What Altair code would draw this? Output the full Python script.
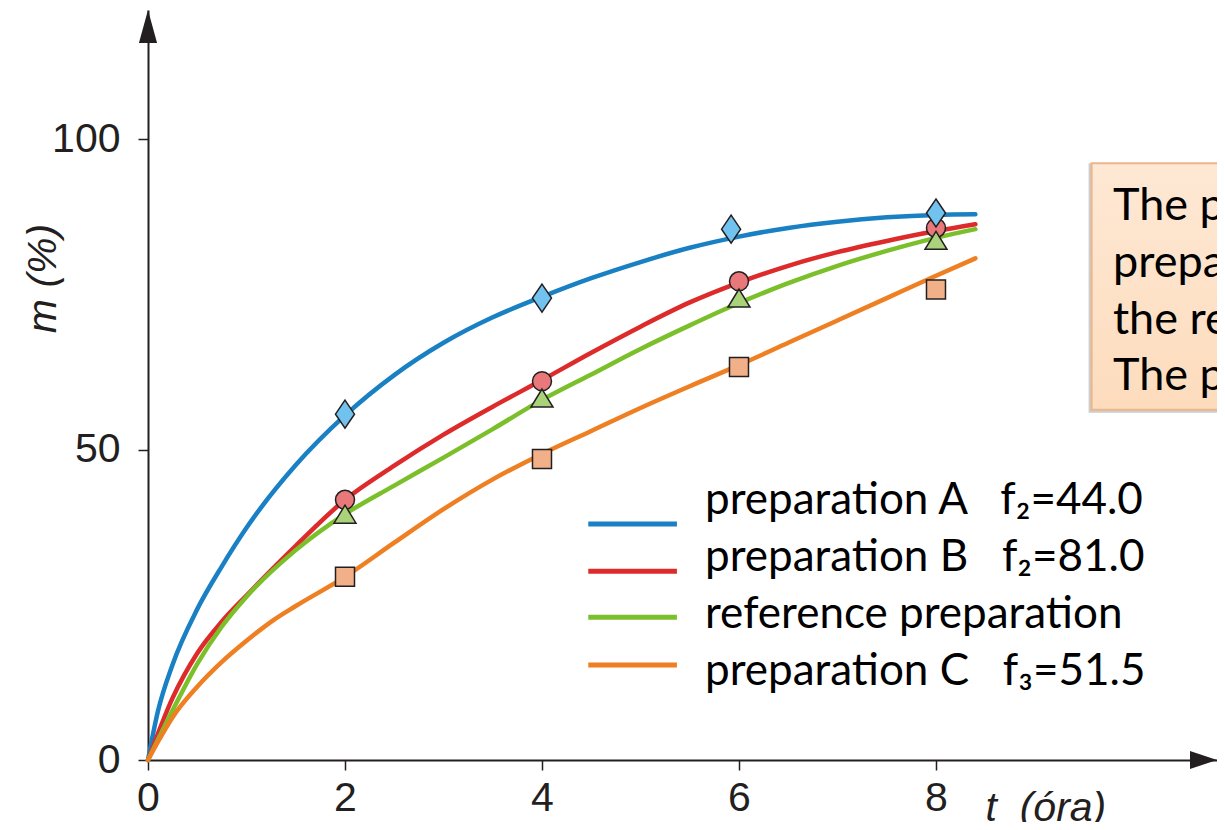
import altair as alt
import pandas as pd

# ---------------- data ----------------
series_names = ["preparation A", "preparation B", "reference preparation", "preparation C"]
series_colors = ["#1a80c4", "#dd2a2a", "#7bc02b", "#ee7f22"]

curve_t_A = [0, 0.1, 0.25, 0.5, 0.75, 1.0, 1.5, 2, 2.5, 3, 3.5, 4, 4.5, 5, 5.5, 6, 6.5, 7, 7.5, 8, 8.4]
curve_m_A = [0, 7.8, 15.4, 24.3, 31.2, 37.4, 47.5, 55.5, 62.0, 67.2, 71.3, 74.6, 77.6, 80.2, 82.5, 84.3, 85.7, 86.7, 87.4, 87.8, 87.9]

curve_t_B = [0, 0.25, 0.5, 0.75, 1.0, 1.5, 2, 2.5, 3, 3.5, 4, 4.5, 5, 5.5, 6, 6.5, 7, 7.5, 8, 8.4]
curve_m_B = [0, 10.0, 17.2, 22.3, 26.5, 34.5, 41.9, 47.4, 52.4, 56.9, 61.2, 65.6, 69.8, 73.7, 76.9, 79.6, 81.8, 83.6, 85.2, 86.3]

curve_t_R = [0, 0.25, 0.5, 0.75, 1.0, 1.5, 2, 2.5, 3, 3.5, 4, 4.5, 5, 5.5, 6, 6.5, 7, 7.5, 8, 8.4]
curve_m_R = [0, 8.0, 15.5, 21.5, 26.3, 33.8, 39.6, 44.2, 48.7, 53.3, 58.0, 62.1, 66.2, 70.0, 73.6, 76.8, 79.6, 82.0, 84.1, 85.5]

curve_t_C = [0, 0.1, 0.25, 0.5, 0.75, 1.0, 1.27, 1.5, 2, 2.5, 3, 3.5, 4, 4.5, 5, 5.5, 6, 6.5, 7, 7.5, 8, 8.4]
curve_m_C = [0, 2.9, 6.9, 11.8, 15.8, 19.2, 22.5, 24.8, 29.5, 35.0, 40.4, 45.2, 49.3, 53.0, 56.7, 60.2, 63.6, 67.2, 70.8, 74.4, 78.0, 80.8]

points_t_A = [2, 4, 5.92, 8]
points_m_A = [55.7, 74.4, 85.5, 88.1]
points_t_B = [2, 4, 6, 8]
points_m_B = [41.9, 61.0, 77.1, 85.7]
points_t_R = [2, 4, 6, 8]
points_m_R = [39.6, 58.3, 74.4, 83.7]
points_t_C = [2, 4, 6, 8]
points_m_C = [29.5, 48.5, 63.3, 75.8]

x_ticks = [0, 2, 4, 6, 8]
y_ticks = [0, 50, 100]

legend_labels = [
    "preparation A\u00a0\u00a0\u00a0f\u2082=44.0",
    "preparation B\u00a0\u00a0\u00a0f\u2082=81.0",
    "reference preparation",
    "preparation C\u00a0\u00a0\u00a0f\u2083=51.5",
]
legend_line_m = [38.0, 30.4, 23.0, 15.3]
legend_text_m = [39.62, 30.44, 21.26, 12.08]
legend_line_t = [4.47, 5.37]
legend_text_t = 5.655

box_lines = [
    "The profiles of",
    "preparation B and",
    "the reference are similar.",
    "The profiles of A and C differ.",
]
box_text_m = [86.96, 77.8, 68.6, 59.6]
box_text_t = 9.797
box_t = [9.58, 12.0]
box_m = [56.4, 96.1]

# ---------------- layout ----------------
PLOT_W, PLOT_H = 1069, 750
X_MAX, Y_MAX = 10.853, 120.8
PX_X = PLOT_W / X_MAX
PX_Y = PLOT_H / Y_MAX
INK = "#231f20"

xs = alt.Scale(domain=[0, X_MAX], nice=False, zero=False)
ys = alt.Scale(domain=[0, Y_MAX], nice=False, zero=False)

x_axis = alt.Axis(
    values=x_ticks, format="d", grid=False, labelFont="Liberation Sans", labelFontSize=41,
    labelColor=INK, labelPadding=8, labelFlush=False, tickColor=INK, tickSize=10, tickWidth=1.5,
    domainColor=INK, domainWidth=2, title="t\u00a0\u00a0(óra)", titleFont="Liberation Sans",
    titleFontSize=41, titleFontStyle="italic", titleFontWeight="normal", titleColor=INK,
    titleX=837, titleY=60, titleAlign="left", titleBaseline="alphabetic", labelOverlap=False,
)
y_axis = alt.Axis(
    values=y_ticks, format="d", grid=False, labelFont="Liberation Sans", labelFontSize=41,
    labelColor=INK, labelPadding=18, labelFlush=False, tickColor=INK, tickSize=10, tickWidth=1.5,
    domainColor=INK, domainWidth=2, title="m (%)", titleFont="Liberation Sans",
    titleFontSize=41, titleFontStyle="italic", titleFontWeight="normal", titleColor=INK,
    titleX=-105, titleY=268, titleAngle=270, titleAlign="center", titleBaseline="middle",
    labelOverlap=False,
)


def X(field="t"):
    return alt.X(f"{field}:Q", scale=xs, axis=x_axis)


def Y(field="m"):
    return alt.Y(f"{field}:Q", scale=ys, axis=y_axis)


color_scale = alt.Scale(domain=series_names, range=series_colors)

curves = [(curve_t_A, curve_m_A), (curve_t_B, curve_m_B), (curve_t_R, curve_m_R), (curve_t_C, curve_m_C)]
layers = []

# text box (behind everything)
box_df = pd.DataFrame({"t": [box_t[0]], "t2": [box_t[1]], "m": [box_m[0]], "m2": [box_m[1]]})
layers.append(
    alt.Chart(box_df).mark_rect(color="#b8b8b8", opacity=0.7, xOffset=-3, yOffset=3, clip=True)
    .encode(x=X(), x2="t2:Q", y=Y(), y2="m2:Q")
)
layers.append(
    alt.Chart(box_df).mark_rect(
        color=alt.Gradient(gradient="linear", x1=0, x2=0, y1=0, y2=1,
                           stops=[alt.GradientStop(color="#fee8d4", offset=0),
                                  alt.GradientStop(color="#fddcbd", offset=1)]),
        stroke="#eab78c", strokeWidth=2, clip=True)
    .encode(x=X(), x2="t2:Q", y=Y(), y2="m2:Q")
)
box_text_df = pd.DataFrame({"label": box_lines, "t": [box_text_t] * len(box_lines), "m": box_text_m})
layers.append(
    alt.Chart(box_text_df).mark_text(align="left", baseline="alphabetic", font="Lato", fontSize=45,
                                     color="#000000", clip=True)
    .encode(x=X(), y=Y(), text="label:N")
)

# curves
for name, (ct, cm) in zip(series_names, curves):
    df = pd.DataFrame({"t": ct, "m": cm, "series": name, "i": range(len(ct))})
    layers.append(
        alt.Chart(df).mark_line(strokeWidth=4.5, interpolate="monotone", strokeCap="round")
        .encode(x=X(), y=Y(), order="i:Q",
                color=alt.Color("series:N", scale=color_scale, legend=None))
    )

# markers
marker_specs = [
    (points_t_B, points_m_B, "circle", 361, "#e8787a"),
    (points_t_C, points_m_C, "square", 361, "#f1b088"),
    (points_t_R, points_m_R, "M0,-0.82L1,0.82L-1,0.82Z", 484, "#a9d27a"),
    (points_t_A, points_m_A, "M0,-1L0.68,0L0,1L-0.68,0Z", 784, "#72c2ef"),
]
for pt, pm, shape, size, fill in marker_specs:
    df = pd.DataFrame({"t": pt, "m": pm})
    layers.append(
        alt.Chart(df).mark_point(shape=shape, size=size, filled=True, fill=fill, fillOpacity=1,
                                 stroke=INK, strokeWidth=1.5, opacity=1)
        .encode(x=X(), y=Y())
    )

# legend
leg_df = pd.DataFrame({"series": series_names, "t": [legend_line_t[0]] * 4,
                       "t2": [legend_line_t[1]] * 4, "m": legend_line_m})
layers.append(
    alt.Chart(leg_df).mark_rule(strokeWidth=5)
    .encode(x=X(), x2="t2:Q", y=Y(), color=alt.Color("series:N", scale=color_scale, legend=None))
)
leg_txt = pd.DataFrame({"label": legend_labels, "t": [legend_text_t] * 4, "m": legend_text_m})
layers.append(
    alt.Chart(leg_txt).mark_text(align="left", baseline="alphabetic", font="Lato", fontSize=44,
                                 color="#000000")
    .encode(x=X(), y=Y(), text="label:N")
)

# axis arrow heads
arrow_df = pd.DataFrame({"t": [0, X_MAX - 13.5 / PX_X], "m": [Y_MAX - 16.5 / PX_Y, 0],
                         "kind": ["up", "right"]})
layers.append(
    alt.Chart(arrow_df).transform_filter(alt.datum.kind == "up")
    .mark_point(shape="M0,-1L0.55,1L-0.55,1Z", size=1089, filled=True, color=INK, opacity=1)
    .encode(x=X(), y=Y())
)
layers.append(
    alt.Chart(arrow_df).transform_filter(alt.datum.kind == "right")
    .mark_point(shape="M1,0L-1,-0.667L-1,0.667Z", size=729, filled=True, color=INK, opacity=1)
    .encode(x=X(), y=Y())
)

chart = alt.layer(*layers).properties(
    width=PLOT_W, height=PLOT_H,
    padding={"left": 140, "top": 2, "right": 0, "bottom": 62},
    autosize=alt.AutoSizeParams(type="none"),
    background="white",
).configure_view(stroke=None)

chart.save("out.html", embed_options={"renderer": "svg", "actions": False})
